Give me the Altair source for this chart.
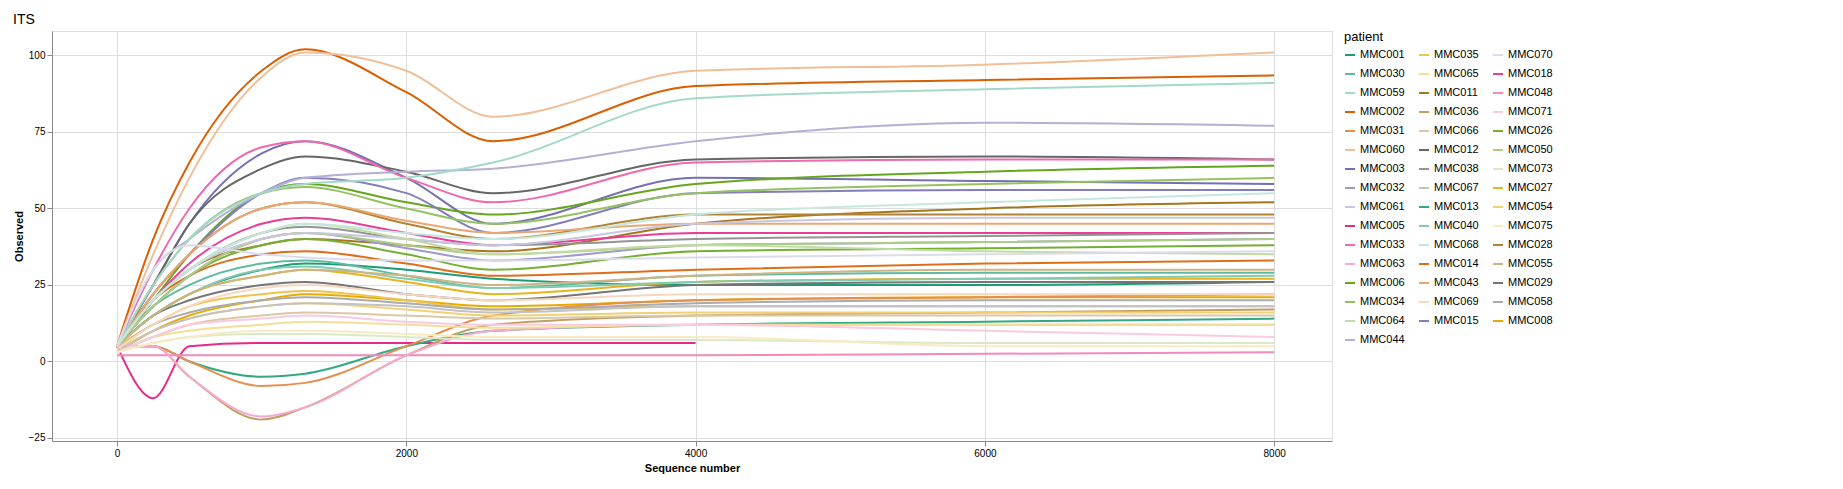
import altair as alt
import pandas as pd

# knots along sequence number (x)
seq = [0, 250, 500, 1000, 1300, 2000, 2600, 4000, 6000, 8000]

observed = {
    "MMC001": [5, 15, 22, 30, 32, 30, 27, 25, 25, 26],
    "MMC002": [5, 40, 65, 95, 102, 88, 72, 90, 92, 93.5],
    "MMC003": [5, 25, 45, 68, 72, 60, 45, 60, 59, 58],
    "MMC005": [5, -12, 5, 6, 6, 6, 6, 6, None, None],
    "MMC006": [5, 20, 35, 55, 58, 52, 48, 58, 62, 64],
    "MMC008": [3, 10, 15, 20, 22, 20, 18, 20, 21, 21],
    "MMC011": [5, 20, 30, 38, 40, 38, 36, 45, 50, 52],
    "MMC012": [5, 25, 45, 63, 67, 62, 55, 66, 67, 66],
    "MMC013": [5, 5, 0, -5, -4, 5, 10, 12, 13, 14],
    "MMC014": [5, 20, 28, 35, 36, 32, 28, 30, 32, 33],
    "MMC015": [5, 22, 35, 55, 60, 55, 42, 55, 56, 56],
    "MMC018": [5, 20, 32, 45, 47, 42, 38, 42, 42, 42],
    "MMC026": [5, 18, 28, 38, 40, 35, 30, 36, 37, 38],
    "MMC027": [5, 15, 22, 28, 30, 26, 22, 26, 27, 27],
    "MMC028": [5, 22, 35, 50, 52, 45, 40, 48, 48, 48],
    "MMC029": [5, 15, 20, 25, 26, 22, 20, 25, 26, 26],
    "MMC030": [5, 18, 25, 32, 33, 28, 24, 28, 29, 29],
    "MMC031": [5, 5, 0, -8, -7, 5, 15, 20, 21, 22],
    "MMC032": [5, 18, 28, 40, 42, 37, 33, 38, 39, 40],
    "MMC033": [5, 30, 50, 70, 72, 60, 52, 65, 66, 66],
    "MMC034": [5, 25, 40, 55, 57, 50, 45, 55, 58, 60],
    "MMC035": [5, 12, 18, 22, 23, 20, 17, 18, 18, 18],
    "MMC036": [5, 5, -5, -19, -15, 2, 12, 15, 16, 17],
    "MMC038": [5, 20, 30, 42, 44, 40, 38, 40, 41, 42],
    "MMC040": [5, 15, 22, 30, 31, 27, 24, 26, 27, 28],
    "MMC043": [5, 22, 35, 50, 52, 46, 42, 45, 45, 45],
    "MMC044": [5, 30, 40, 55, 60, 62, 63, 72, 78, 77],
    "MMC048": [2, 2, 2, 2, 2, 2, 2, 2, 2.5, 3],
    "MMC050": [5, 18, 28, 40, 42, 38, 35, 38, 39, 40],
    "MMC054": [4, 10, 14, 18, 19, 17, 15, 16, 16, 16],
    "MMC055": [5, 15, 22, 28, 30, 28, 25, 28, 30, 30],
    "MMC058": [4, 12, 16, 20, 21, 19, 17, 19, 20, 20],
    "MMC059": [5, 25, 40, 55, 58, 60, 65, 86, 89, 91],
    "MMC060": [5, 35, 60, 93, 101, 95, 80, 95, 97, 101],
    "MMC061": [5, 20, 30, 40, 42, 40, 38, 45, 47, 47],
    "MMC063": [5, 5, -5, -18, -15, 2, 10, 12, 12, 12],
    "MMC064": [5, 20, 30, 42, 45, 40, 35, 38, 36, 35],
    "MMC065": [3, 8, 10, 12, 13, 12, 11, 12, 12, 12],
    "MMC066": [3, 8, 12, 15, 16, 15, 14, 15, 15, 15],
    "MMC067": [3, 10, 14, 18, 19, 18, 16, 18, 18, 18],
    "MMC068": [5, 20, 30, 42, 45, 42, 40, 48, 52, 55],
    "MMC069": [4, 12, 18, 24, 25, 22, 20, 22, 22, 22],
    "MMC070": [5, 30, 38, 35, 34, 33, 33, 34, 35, 36],
    "MMC071": [3, 8, 12, 14, 15, 13, 12, 12, 10, 8],
    "MMC073": [3, 6, 8, 9, 9, 8, 7, 7, 6, 6],
    "MMC075": [3, 6, 8, 10, 10, 9, 8, 8, 5, 5],
}

dark2 = ["#1B9E77", "#D95F02", "#7570B3", "#E7298A",
         "#66A61E", "#E6AB02", "#A6761D", "#666666"]
fade = [0, 0.1, 0.3, 0.45, 0.6, 0.75]


def lighten(hex_col, f):
    rgb = [int(hex_col[i:i + 2], 16) for i in (1, 3, 5)]
    rgb = [round(c + (255 - c) * f) for c in rgb]
    return "#%02x%02x%02x" % tuple(rgb)


patients = list(observed)
colors = [lighten(dark2[i % 8], fade[i // 8]) for i in range(len(patients))]

# legend fills row by row, so interleave to read down the columns like ggplot
order = [c * 16 + r for r in range(16) for c in range(3) if c * 16 + r < len(patients)]
leg_domain = [patients[i] for i in order]
leg_range = [colors[i] for i in order]

rows = []
for p in patients:
    for x, y in zip(seq, observed[p]):
        if y is not None:
            rows.append({"patient": p, "seq": x, "obs": y})
df = pd.DataFrame(rows)

chart = alt.Chart(df).mark_line(interpolate="monotone", strokeWidth=2).encode(
    x=alt.X("seq:Q", title="Sequence number",
            scale=alt.Scale(domain=[-450, 8400], nice=False),
            axis=alt.Axis(values=[0, 2000, 4000, 6000, 8000], format="d")),
    y=alt.Y("obs:Q", title="Observed",
            scale=alt.Scale(domain=[-26, 108], nice=False),
            axis=alt.Axis(values=[-25, 0, 25, 50, 75, 100])),
    color=alt.Color("patient:N", scale=alt.Scale(domain=leg_domain, range=leg_range),
                    legend=alt.Legend(columns=3, symbolType="stroke",
                                      symbolStrokeWidth=2, rowPadding=8,
                                      labelFontSize=11, titleFontSize=13,
                                      titleFontWeight="normal", columnPadding=10,
                                      symbolLimit=0, offset=12)),
    detail="patient:N",
).properties(
    width=1550, height=470,
    autosize=alt.AutoSizeParams(type="fit", contains="padding"),
    title=alt.Title("ITS", anchor="start", fontSize=14, fontWeight="normal"),
).configure_axis(
    labelColor="#4d4d4d", titleFontWeight="normal", titleFontSize=12,
    gridColor="#ebebeb", domain=False, tickColor="#333333", labelFontSize=10,
).configure_view(stroke="#888888").configure(font="Liberation Sans")

chart.save("out.html", embed_options={"renderer": "svg", "actions": False})
